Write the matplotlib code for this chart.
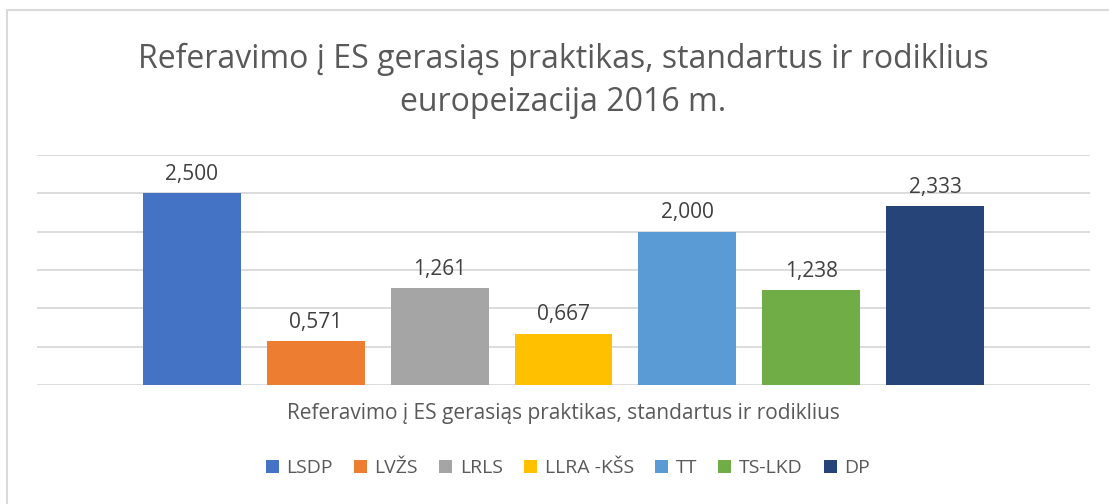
import matplotlib.pyplot as plt
from matplotlib.lines import Line2D
from matplotlib.patches import Patch

# data
parties = ['LSDP', 'LVŽS', 'LRLS', 'LLRA -KŠS', 'TT', 'TS-LKD', 'DP']
values = [2.500, 0.571, 1.261, 0.667, 2.000, 1.238, 2.333]
colors = ['#4472C4', '#ED7D31', '#A5A5A5', '#FFC000', '#5B9BD5', '#70AD47', '#264478']
title = 'Referavimo į ES gerasiąs praktikas, standartus ir rodiklius\neuropeizacija 2016 m.'
xlabel = 'Referavimo į ES gerasiąs praktikas, standartus ir rodiklius'

plt.rcParams['font.family'] = ['Open Sans', 'DejaVu Sans']

W, H = 1109, 504
fig = plt.figure(figsize=(W / 100, H / 100), dpi=100)
ax = fig.add_axes([37 / W, 119 / H, (1090 - 37) / W, (385 - 155) / H])

x = list(range(len(parties)))
ax.bar(x, values, width=98 / 124, color=colors, zorder=3)
for xi, v in zip(x, values):
    ax.text(xi, v + 0.11, f'{v:.3f}'.replace('.', ','), ha='center', va='bottom',
            fontsize=15, color='#404040')

ax.set_xlim(-1.246, 7.246)
ax.set_ylim(0, 3)
ax.set_yticks([0, 0.5, 1, 1.5, 2, 2.5, 3])
ax.yaxis.grid(True, color='#D9D9D9', linewidth=1.3, zorder=0)
ax.set_yticklabels([])
ax.tick_params(left=False, bottom=False, labelbottom=False)
for s in ax.spines.values():
    s.set_visible(False)

# chart area border (only left and top fall inside the picture)
fig.add_artist(Line2D([7 / W, 7 / W], [0, 1 - 10 / H], color='#D9D9D9', linewidth=1.5))
fig.add_artist(Line2D([7 / W, 1], [1 - 10 / H, 1 - 10 / H], color='#D9D9D9', linewidth=1.5))

fig.text(563 / W, 1 - 81 / H, title, ha='center', va='center', fontsize=23,
         color='#595959', linespacing=1.4)
fig.text(563 / W, 1 - 413 / H, xlabel, ha='center', va='center', fontsize=15,
         color='#595959')

handles = [Patch(facecolor=c, edgecolor='none') for c in colors]
fig.legend(handles, parties, loc='center', bbox_to_anchor=(568 / W, 1 - 468 / H),
           ncol=7, frameon=False, fontsize=14, handlelength=0.65, handleheight=0.65,
           handletextpad=0.4, columnspacing=1.1, labelcolor='#595959')

fig.savefig('out.png', dpi=100)
